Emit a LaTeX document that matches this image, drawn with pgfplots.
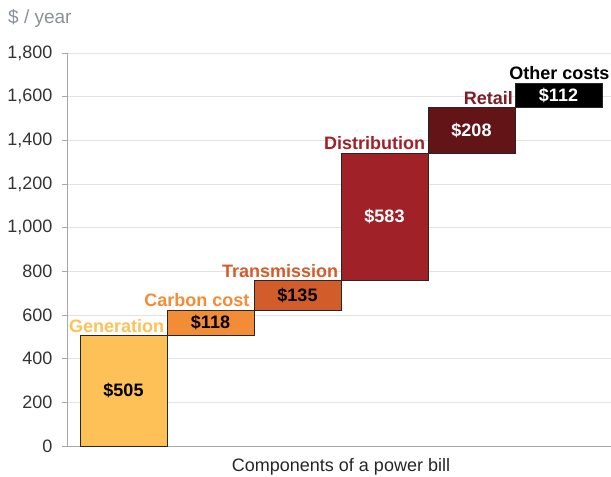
\documentclass[border=0pt]{standalone}
\usepackage{pgfplots}
\pgfplotsset{compat=1.18}
\usepackage{fontspec}
\setmainfont{Liberation Sans}
\definecolor{cgen}{HTML}{FEC157}
\definecolor{ccarb}{HTML}{F28C36}
\definecolor{ctran}{HTML}{D35C2B}
\definecolor{cdist}{HTML}{A02128}
\definecolor{cret}{HTML}{631416}
\definecolor{cretl}{HTML}{7B1E27}
\definecolor{cgrid}{HTML}{E3E3E3}
\definecolor{caxis}{HTML}{A8A8A8}
\definecolor{cunit}{HTML}{8A9099}
\begin{document}
\begin{tikzpicture}
\path[use as bounding box] (-67pt,-31pt) rectangle (544pt,446pt);
\begin{axis}[
  anchor=south west, at={(0pt,0pt)},
  scale only axis, width=544pt, height=393pt,
  xmin=-0.6494, xmax=5.6034, ymin=0, ymax=1800,
  axis x line=bottom, axis y line=left,
  axis line style={-, caxis, line width=0.8pt},
  xtick=\empty,
  ytick={0,200,...,1800},
  ymajorgrids, grid style={cgrid, line width=0.6pt},
  tick align=outside, major tick length=5pt,
  tick style={caxis, line width=0.6pt},
  yticklabel style={font=\fontsize{18}{20}\selectfont, text=black!80, xshift=-6pt},
  /pgf/number format/.cd, 1000 sep={,}, assume math mode=true,
  /pgfplots/.cd,
  clip=false,
  every axis plot/.append style={draw=black!85, line width=0.9pt},
]
\addplot[fill=cgen] coordinates {(-0.5,0) (0.5,0) (0.5,505) (-0.5,505)} -- cycle;
\addplot[fill=ccarb] coordinates {(0.5,505) (1.5,505) (1.5,623) (0.5,623)} -- cycle;
\addplot[fill=ctran] coordinates {(1.5,623) (2.5,623) (2.5,758) (1.5,758)} -- cycle;
\addplot[fill=cdist] coordinates {(2.5,758) (3.5,758) (3.5,1341) (2.5,1341)} -- cycle;
\addplot[fill=cret] coordinates {(3.5,1341) (4.5,1341) (4.5,1549) (3.5,1549)} -- cycle;
\addplot[fill=black] coordinates {(4.5,1549) (5.5,1549) (5.5,1661) (4.5,1661)} -- cycle;
\begin{scope}[every node/.style={font=\fontsize{18}{20}\selectfont\bfseries, inner sep=1pt}]
\node[anchor=south east, text=cgen, yshift=2pt] at (axis cs:0.48,505) {Generation};
\node[anchor=south east, text=ccarb, yshift=2pt] at (axis cs:1.46,623) {Carbon cost};
\node[anchor=south east, text=ctran, yshift=2pt] at (axis cs:2.48,758) {Transmission};
\node[anchor=south east, text=cdist, yshift=2pt] at (axis cs:3.48,1341) {Distribution};
\node[anchor=south east, text=cretl, yshift=2pt] at (axis cs:4.49,1549) {Retail};
\node[anchor=south east, text=black, yshift=2pt] at (axis cs:5.6,1661) {Other costs};
\node[text=black] at (axis cs:0,252) {\$505};
\node[text=black] at (axis cs:1,564) {\$118};
\node[text=black] at (axis cs:2,690) {\$135};
\node[text=white] at (axis cs:3,1050) {\$583};
\node[text=white] at (axis cs:4,1445) {\$208};
\node[text=white] at (axis cs:5,1605) {\$112};
\end{scope}
\end{axis}
\node[anchor=west, text=cunit, font=\fontsize{19}{21}\selectfont, inner sep=0pt] at (-59pt,428pt) {\$ / year};
\node[text=black!85, font=\fontsize{18}{20}\selectfont, inner sep=0pt] at (274pt,-21pt) {Components of a power bill};
\end{tikzpicture}
\end{document}
